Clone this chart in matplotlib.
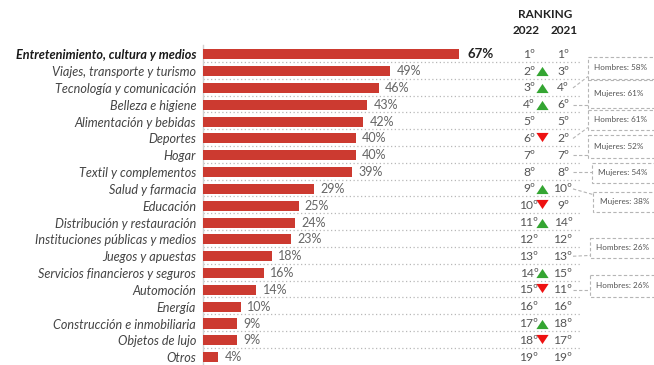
import matplotlib
matplotlib.use("Agg")
import matplotlib.pyplot as plt
from matplotlib.transforms import blended_transform_factory
from matplotlib.patches import Rectangle
from matplotlib.path import Path

categories = [
    "Entretenimiento, cultura y medios", "Viajes, transporte y turismo",
    "Tecnología y comunicación", "Belleza e higiene", "Alimentación y bebidas",
    "Deportes", "Hogar", "Textil y complementos", "Salud y farmacia",
    "Educación", "Distribución y restauración", "Instituciones públicas y medios",
    "Juegos y apuestas", "Servicios financieros y seguros", "Automoción",
    "Energía", "Construcción e inmobiliaria", "Objetos de lujo", "Otros",
]
values = [67, 49, 46, 43, 42, 40, 40, 39, 29, 25, 24, 23, 18, 16, 14, 10, 9, 9, 4]
rank_2022 = [1, 2, 3, 4, 5, 6, 7, 8, 9, 10, 11, 12, 13, 14, 15, 16, 17, 18, 19]
rank_2021 = [1, 3, 4, 6, 5, 2, 7, 8, 10, 9, 14, 12, 13, 15, 11, 16, 18, 17, 19]

note_texts = ["Hombres: 58%", "Mujeres: 61%", "Hombres: 61%", "Mujeres: 52%",
              "Mujeres: 54%", "Mujeres: 38%", "Hombres: 26%", "Hombres: 26%"]
note_rows = [2, 3, 5, 6, 7, 8, 12, 14]

W, H = 654, 365
fig = plt.figure(figsize=(W / 100, H / 100), dpi=100)
plt.rcParams['font.family'] = ['Lato', 'DejaVu Sans']

ax_left, ax_top = 203, 45
ax = fig.add_axes([ax_left / W, 0, 1 - ax_left / W, (H - ax_top) / H])
px_per_pct = 3.82
ax.set_xlim(0, (W - ax_left) / px_per_pct)
row_px = 16.83
ax.set_ylim(18 + (H - 357.2) / row_px, -(54.3 - ax_top) / row_px)

n = len(categories)
ypos = list(range(n))
bar_color = "#cc3a30"
ax.barh(ypos, values, height=0.6, color=bar_color, zorder=3)

# dotted row separators
sep_end = (580 - ax_left) / (W - ax_left)
for i in range(n - 1):
    ax.axhline(i + 0.45, xmin=0, xmax=sep_end, color="#b8b8b8", lw=0.9,
               ls=(0, (1, 2)), zorder=1)

for i, v in enumerate(values):
    bold = i == 0
    ax.annotate(f"{v}%", (v, i), xytext=(6 if bold else 4.5, 0), textcoords="offset points",
                va="center", ha="left", fontsize=9.5 if bold else 9,
                fontweight="bold" if bold else "normal",
                color="#222222" if bold else "#666666", zorder=4)

ax.set_yticks(ypos)
ax.set_yticklabels(categories)
for i, lab in enumerate(ax.get_yticklabels()):
    lab.set_fontstyle("italic")
    lab.set_fontsize(9.1)
    if i == 0:
        lab.set_fontweight("bold")
        lab.set_color("#1a1a1a")
    else:
        lab.set_color("#444444")
ax.tick_params(axis="y", length=0, pad=5)
ax.tick_params(axis="x", bottom=False, labelbottom=False)
for s in ["top", "right", "bottom"]:
    ax.spines[s].set_visible(False)
ax.spines["left"].set_color("#d0d0d0")
ax.spines["left"].set_linewidth(1)

# ranking columns
tr = blended_transform_factory(fig.transFigure, ax.transData)
x22, x21, xtri = 529 / W, 563 / W, 542 / W
fig.text(545 / W, 1 - 14 / H, "RANKING", ha="center", va="center",
         fontsize=8.5, fontweight="bold", color="#222222")
fig.text(526 / W, 1 - 30 / H, "2022", ha="center", va="center",
         fontsize=8.5, fontweight="bold", color="#222222")
fig.text(564 / W, 1 - 30 / H, "2021", ha="center", va="center",
         fontsize=8.5, fontweight="bold", color="#222222")

up = Path([(-1, -0.75), (1, -0.75), (0, 0.75), (-1, -0.75)])
down = Path([(-1, 0.75), (1, 0.75), (0, -0.75), (-1, 0.75)])
for i in range(n):
    ax.text(x22, i, f"{rank_2022[i]}º", transform=tr, ha="center", va="center",
            fontsize=8.7, color="#555555")
    ax.text(x21, i, f"{rank_2021[i]}º", transform=tr, ha="center", va="center",
            fontsize=8.7, color="#555555")
    if rank_2022[i] < rank_2021[i]:
        ax.plot([xtri], [i], transform=tr, marker=up, ms=8.8, color="#34a532",
                mec="none", clip_on=False, zorder=5)
    elif rank_2022[i] > rank_2021[i]:
        ax.plot([xtri], [i - 0.1], transform=tr, marker=down, ms=8.8, color="#ee1111",
                mec="none", clip_on=False, zorder=5)

# annotation boxes (layout: top/bottom pixel rows)
box_px = [(57, 79), (80, 108), (110, 130), (135, 158), (163, 183), (192, 212),
          (238, 258), (275, 297)]
box_left = [588, 588, 588, 588, 592, 593, 590, 590]
def py2row(p):
    return (p - 54.3) / row_px
for txt, r, (t, b), bl in zip(note_texts, note_rows, box_px, box_left):
    y0, y1 = py2row(t), py2row(b)
    rect = Rectangle((bl / W, y0), (W + 5 - bl) / W, y1 - y0, transform=tr,
                     fill=False, ec="#b5b5b5", lw=0.8, ls=(0, (3, 2)), clip_on=False)
    ax.add_patch(rect)
    ax.text((bl + 6.5) / W, (y0 + y1) / 2, txt, transform=tr, ha="left", va="center",
            fontsize=5.9, color="#555555")
    ty = min(max(r, y0 + 0.15), y1 - 0.15)
    ax.plot([573 / W, bl / W], [r, ty], transform=tr, color="#b5b5b5", lw=0.8,
            ls=(0, (3, 2)), clip_on=False)

fig.savefig("out.png", dpi=100)
